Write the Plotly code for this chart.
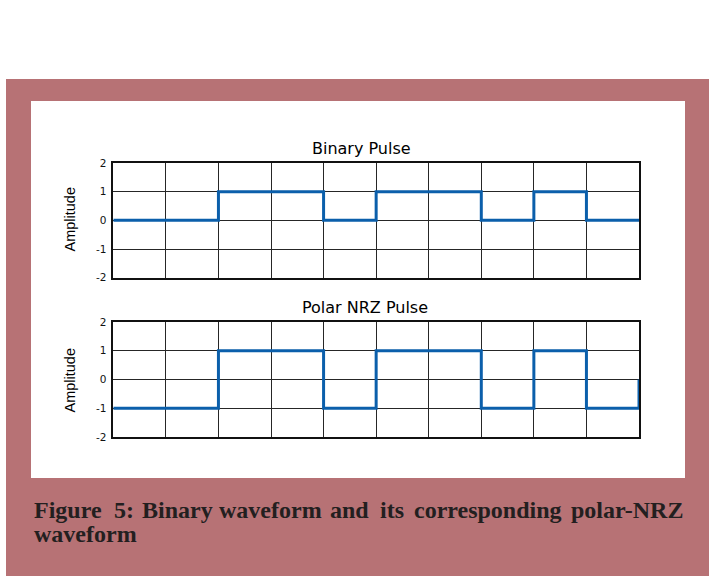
import plotly.graph_objects as go

# Bit sequence and the two line codes drawn from it
bit_slots = list(range(11))            # slot boundaries 0..10
binary_levels = [0, 0, 1, 1, 0, 1, 1, 0, 1, 0, 0]
polar_levels = [-1, -1, 1, 1, -1, 1, 1, -1, 1, -1, 0]

y_ticks = [-2, -1, 0, 1, 2]
y_tick_labels = ["-2", "-1", "0", "1", "2"]

panel_titles = ["Binary Pulse", "Polar NRZ Pulse"]
y_title = "Amplitude"
caption_line1 = ["Figure", "5:", "Binary", "waveform", "and", "its", "corresponding", "polar-NRZ"]
caption_line2 = ["waveform"]

W, H = 709, 576
ROSE = "#b77275"
BLUE = "#0b5fab"
GRID = "#262626"
TEXT = "#231f20"


def px(x):
    return x / W


def py(y):
    return 1 - y / H


fig = go.Figure()

fig.add_trace(go.Scatter(x=bit_slots, y=binary_levels, mode="lines", line_shape="hv",
                         line=dict(color=BLUE, width=3), xaxis="x", yaxis="y",
                         showlegend=False, hoverinfo="skip"))
fig.add_trace(go.Scatter(x=bit_slots, y=polar_levels, mode="lines", line_shape="hv",
                         line=dict(color=BLUE, width=3), xaxis="x2", yaxis="y2",
                         showlegend=False, hoverinfo="skip"))

x_dom = [px(113.3), px(639)]
top_dom = [py(277.7), py(163)]
bot_dom = [py(437), py(322)]

xcommon = dict(range=[0, 10], tickmode="linear", tick0=0, dtick=1, showticklabels=False,
               showgrid=True, gridcolor=GRID, gridwidth=1, zeroline=False,
               showline=True, linecolor="#111111", linewidth=1.5, mirror=True,
               ticks="", fixedrange=True, automargin=False)
ycommon = dict(range=[-2, 2], tickmode="array", tickvals=y_ticks, ticktext=y_tick_labels,
               showgrid=True, gridcolor=GRID, gridwidth=1, zeroline=False,
               showline=True, linecolor="#111111", linewidth=1.5, mirror=True,
               ticks="", ticklabelstandoff=3,
               tickfont=dict(family="DejaVu Sans", size=10.5, color="#111111"),
               fixedrange=True, automargin=False)

fig.update_layout(
    width=W, height=H,
    margin=dict(l=0, r=0, t=0, b=0, pad=0),
    paper_bgcolor="white", plot_bgcolor="white",
    xaxis=dict(domain=x_dom, anchor="y", **xcommon),
    yaxis=dict(domain=top_dom, anchor="x", **ycommon),
    xaxis2=dict(domain=x_dom, anchor="y2", **xcommon),
    yaxis2=dict(domain=bot_dom, anchor="x2", **ycommon),
)

# Framed figure background: rose border with a white panel for the plots
fig.add_shape(type="rect", xref="paper", yref="paper", x0=px(6), x1=px(709), y0=py(576), y1=py(79),
              fillcolor=ROSE, line=dict(width=0), layer="below")
fig.add_shape(type="rect", xref="paper", yref="paper", x0=px(31), x1=px(685), y0=py(478), y1=py(101),
              fillcolor="white", line=dict(width=0), layer="below")

# Panel titles
for title, (tx, ty) in zip(panel_titles, [(361.5, 148), (365, 307)]):
    fig.add_annotation(text=title, xref="paper", yref="paper", x=px(tx), y=py(ty),
                       xanchor="center", yanchor="middle", showarrow=False,
                       font=dict(family="DejaVu Sans", size=16, color="#000000"))

# Rotated y-axis titles
for ty in (220, 381):
    fig.add_annotation(text=y_title, xref="paper", yref="paper", x=px(69.5), y=py(ty),
                       xanchor="center", yanchor="middle", textangle=-90, showarrow=False,
                       font=dict(family="Liberation Sans", size=14.5, color="#000000"))

# Justified caption, one word per annotation
line1_x = [31.5, 112, 140, 216.7, 328, 378, 412, 569]
for word, wx in zip(caption_line1, line1_x):
    fig.add_annotation(text=f"<b>{word}</b>", xref="paper", yref="paper", x=px(wx), y=py(510),
                       xanchor="left", yanchor="middle", showarrow=False,
                       font=dict(family="Liberation Serif", size=24, color=TEXT))
for word in caption_line2:
    fig.add_annotation(text=f"<b>{word}</b>", xref="paper", yref="paper", x=px(31.5), y=py(534),
                       xanchor="left", yanchor="middle", showarrow=False,
                       font=dict(family="Liberation Serif", size=24, color=TEXT))

fig.write_html("out.html")
